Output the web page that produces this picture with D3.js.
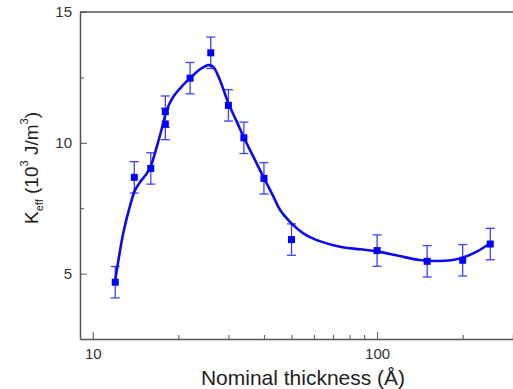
<!DOCTYPE html>
<html>
<head>
<meta charset="utf-8">
<script src="https://cdn.jsdelivr.net/npm/d3@7"></script>
<style>
  body { margin: 0; background: #fff; }
  svg { display: block; font-family: "Liberation Sans", Arial, sans-serif; }
  .axis path, .axis line { stroke: #555; }
  .axis text { fill: #333; font-size: 15px; }
</style>
</head>
<body>
<svg class="chart" width="513" height="389"></svg>
<script>
// measured points
var thickness = [12, 14, 16, 18, 18, 22, 26, 30, 34, 40, 50, 100, 150, 200, 250];
var keff = [4.67, 8.68, 9.02, 10.72, 11.19, 12.47, 13.44, 11.43, 10.19, 8.64, 6.3, 5.88, 5.47, 5.51, 6.13];
var keffErr = [0.6, 0.6, 0.6, 0.6, 0.6, 0.6, 0.6, 0.6, 0.6, 0.6, 0.6, 0.6, 0.6, 0.6, 0.6];

// fitted curve
var fitX = [12, 12.8, 13.5, 14.1, 14.7, 15.5, 16, 16.8, 17.7, 18.2, 19.2, 20.8, 22.3, 23.9, 25.5, 26.5, 28, 30, 32.1, 33.9, 36.7, 39.8, 43.2, 45.6, 50, 55, 61.4, 74, 87, 100, 120, 141, 162, 185, 200, 224, 250];
var fitY = [4.75, 6.54, 7.56, 8.2, 8.51, 8.83, 9.11, 9.85, 10.75, 11.25, 11.76, 12.21, 12.53, 12.82, 12.97, 12.91, 12.4, 11.51, 10.81, 10.23, 9.47, 8.7, 7.94, 7.43, 6.92, 6.54, 6.28, 6.03, 5.93, 5.85, 5.67, 5.52, 5.48, 5.52, 5.61, 5.84, 6.16];

var yMajor = [5, 10, 15];
var yMinor = [7.5, 12.5];
var xMajor = [10, 100];
var xMinor = [20, 30, 40, 50, 60, 70, 80, 90, 200, 300];

var svg = d3.select(".chart"),
    margin = {top: 12, right: -1, bottom: 50, left: 80},
    width = +svg.attr("width") - margin.left - margin.right,
    height = +svg.attr("height") - margin.top - margin.bottom,
    g = svg.append("g").attr("transform", "translate(" + margin.left + "," + margin.top + ")");

var x = d3.scaleLog()
    .domain([9.02, 303])
    .range([0, width]);

var y = d3.scaleLinear()
    .domain([2.5, 15])
    .range([height, 0]);

// top frame line
g.append("line")
    .attr("x1", 0).attr("x2", width)
    .attr("y1", 0).attr("y2", 0)
    .attr("stroke", "#555")
    .attr("stroke-width", 1.5);

// y axis
g.append("g")
    .attr("class", "axis")
    .call(d3.axisLeft(y).tickValues(yMinor).tickSize(-4).tickFormat(""))
    .call(function(s) { s.select(".domain").remove(); });

g.append("g")
    .attr("class", "axis")
    .call(d3.axisLeft(y).tickValues(yMajor).tickSizeInner(-7).tickSizeOuter(0).tickPadding(8).tickFormat(d3.format("d")))
    .selectAll(".domain").attr("stroke-width", 1.5);

// x axis
g.append("g")
    .attr("class", "axis")
    .attr("transform", "translate(0," + height + ")")
    .call(d3.axisBottom(x).tickValues(xMinor).tickSize(-4).tickFormat(""))
    .call(function(s) { s.select(".domain").remove(); });

g.append("g")
    .attr("class", "axis")
    .attr("transform", "translate(0," + height + ")")
    .call(d3.axisBottom(x).tickValues(xMajor).tickSizeInner(-7).tickSizeOuter(0).tickPadding(9).tickFormat(d3.format("d")))
    .selectAll(".domain").attr("stroke-width", 1.5);

// axis titles
svg.append("text")
    .attr("x", 303)
    .attr("y", 385)
    .attr("text-anchor", "middle")
    .attr("font-size", 21)
    .attr("fill", "#222")
    .text("Nominal thickness (Å)");

var ylab = svg.append("text")
    .attr("transform", "translate(38,168) rotate(-90)")
    .attr("text-anchor", "middle")
    .attr("font-size", 19)
    .attr("fill", "#222");
ylab.append("tspan").text("K");
ylab.append("tspan").attr("font-size", 11).attr("dy", 5).text("eff");
ylab.append("tspan").attr("dy", -5).text(" (10");
ylab.append("tspan").attr("font-size", 11).attr("dy", -10).text("3");
ylab.append("tspan").attr("dy", 10).text(" J/m");
ylab.append("tspan").attr("font-size", 11).attr("dy", -10).text("3");
ylab.append("tspan").attr("dy", 10).text(")");

// error bars
var pts = thickness.map(function(t, i) { return {t: t, k: keff[i], e: keffErr[i]}; });

var bars = g.append("g")
    .attr("stroke", "#4040ff")
    .attr("stroke-width", 1.3)
  .selectAll("g")
  .data(pts)
  .enter().append("g");

bars.append("line")
    .attr("x1", function(d) { return x(d.t); })
    .attr("x2", function(d) { return x(d.t); })
    .attr("y1", function(d) { return y(d.k - d.e); })
    .attr("y2", function(d) { return y(d.k + d.e); });
bars.append("line")
    .attr("x1", function(d) { return x(d.t) - 4.5; })
    .attr("x2", function(d) { return x(d.t) + 4.5; })
    .attr("y1", function(d) { return y(d.k + d.e); })
    .attr("y2", function(d) { return y(d.k + d.e); });
bars.append("line")
    .attr("x1", function(d) { return x(d.t) - 4.5; })
    .attr("x2", function(d) { return x(d.t) + 4.5; })
    .attr("y1", function(d) { return y(d.k - d.e); })
    .attr("y2", function(d) { return y(d.k - d.e); });

// fit line
var line = d3.line()
    .x(function(d, i) { return x(fitX[i]); })
    .y(function(d) { return y(d); })
    .curve(d3.curveCatmullRom.alpha(0.5));

g.append("path")
    .datum(fitY)
    .attr("fill", "none")
    .attr("stroke", "#0a0aee")
    .attr("stroke-width", 2.6)
    .attr("d", line);

// markers
g.append("g")
  .selectAll("rect")
  .data(pts)
  .enter().append("rect")
    .attr("x", function(d) { return x(d.t) - 3.5; })
    .attr("y", function(d) { return y(d.k) - 3.5; })
    .attr("width", 7)
    .attr("height", 7)
    .attr("fill", "#0000ff");
</script>
</body>
</html>
